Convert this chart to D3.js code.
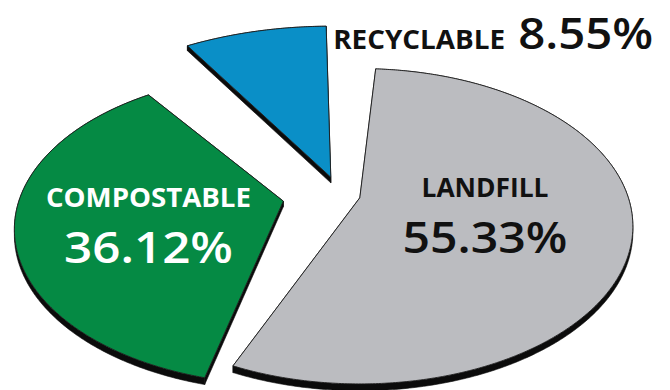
<!DOCTYPE html>
<html>
<head>
<meta charset="utf-8">
<script src="https://cdn.jsdelivr.net/npm/d3@7"></script>
<style>
  html, body { margin: 0; padding: 0; background: #fff; }
  svg { display: block; }
</style>
</head>
<body>
<script>
// Waste stream composition
const categories = ["LANDFILL", "COMPOSTABLE", "RECYCLABLE"];
const shares = [55.33, 36.12, 8.55];
const sliceColors = ["#bbbcc0", "#058a44", "#0a8fc7"];
const labelColors = ["#111111", "#ffffff", "#111111"];

const W = 670, H = 390;
const svg = d3.select("body").append("svg")
  .attr("width", W).attr("height", H)
  .attr("viewBox", `0 0 ${W} ${H}`);

// Perspective camera looking down on the pie plane
const cam = { f: 1221, D: 4.547, tilt: 34.6 * Math.PI / 180 };
const cosT = Math.cos(cam.tilt), sinT = Math.sin(cam.tilt);
function project(a, r) {
  // a: d3 pie angle (0 = far side, clockwise), r: unit radius
  const X = r * Math.sin(a), Z = -r * Math.cos(a);
  const depth = cam.D - cosT * Z;
  return { x: cam.f * X / depth, y: cam.f * sinT * Z / depth, k: cam.D / depth };
}

const center = { x: 340, y: 195 };
const thickness = 5.6;
const deg = Math.PI / 180;

// explode distance, size, slight rotation and label placement per slice
const layout = [
  { explode: 20, scale: 1.0,   twist: 2,  label: { inside: true, r: 0.47, dy: 0,  nameW: 127, valW: 165 } },
  { explode: 57, scale: 0.985, twist: -7, label: { inside: true, r: 0.51, dy: 9,  nameW: 205, valW: 169 } },
  { explode: 20, scale: 1.17,  twist: -3, label: { inside: false, dx: 7, dy: 23, gap: 13, nameW: 172, valW: 135 } }
];

const start = 2 * deg;
const pie = d3.pie().sort(null).startAngle(start).endAngle(start + 2 * Math.PI);
const arcs = pie(shares);

const line = d3.line().x(d => d.x).y(d => d.y);
const fmt = v => v.toFixed(2) + "%";

const slices = arcs.map((arc, i) => {
  const L = layout[i];
  const a0 = arc.startAngle + L.twist * deg;
  const a1 = arc.endAngle + L.twist * deg;
  const mid = (a0 + a1) / 2;
  const m = project(mid, 1);
  const len = Math.hypot(m.x, m.y);
  const apex = { x: center.x + L.explode * m.x / len, y: center.y + L.explode * m.y / len, k: 1 };
  const n = Math.max(8, Math.ceil((a1 - a0) / (0.5 * deg)));
  const rim = d3.range(n + 1).map(j => {
    const p = project(a0 + (a1 - a0) * j / n, 1);
    return { x: apex.x + L.scale * p.x, y: apex.y + L.scale * p.y, k: p.k };
  });
  return { i, arc, L, a0, a1, mid, apex, rim };
});

const drop = p => ({ x: p.x, y: p.y + thickness * p.k });

const g = svg.append("g");

slices.forEach(s => {
  const sg = g.append("g").attr("class", "slice");
  const first = s.rim[0], last = s.rim[s.rim.length - 1];
  // side walls
  const outer = s.rim.concat(s.rim.slice().reverse().map(drop));
  const sides = [
    outer,
    [s.apex, first, drop(first), drop(s.apex)],
    [s.apex, last, drop(last), drop(s.apex)]
  ];
  sides.forEach(poly => {
    sg.append("path")
      .attr("d", line(poly) + "Z")
      .attr("fill", "#0b0b0b")
      .attr("stroke", "#0b0b0b")
      .attr("stroke-width", 0.6)
      .attr("stroke-linejoin", "round");
  });
  // top face
  sg.append("path")
    .attr("d", line([s.apex].concat(s.rim)) + "Z")
    .attr("fill", sliceColors[s.i])
    .attr("stroke", "#1c1c1c")
    .attr("stroke-width", 0.9)
    .attr("stroke-linejoin", "miter");
});

// labels
const nameSize = 26, valueSize = 43;
slices.forEach(s => {
  const L = s.L.label;
  const color = labelColors[s.i];
  const lg = svg.append("g").attr("class", "label")
    .attr("font-family", "'Open Sans', 'Noto Sans', sans-serif")
    .attr("fill", color);
  if (L.inside) {
    const p = project(s.mid, L.r);
    const ax = s.apex.x + s.L.scale * p.x;
    const ay = s.apex.y + s.L.scale * p.y + L.dy;
    lg.append("text")
      .attr("x", ax).attr("y", ay - 18)
      .attr("text-anchor", "middle")
      .attr("font-size", nameSize).attr("font-weight", 700)
      .attr("textLength", L.nameW).attr("lengthAdjust", "spacingAndGlyphs")
      .text(categories[s.i]);
    lg.append("text")
      .attr("x", ax).attr("y", ay + 38)
      .attr("text-anchor", "middle")
      .attr("font-size", valueSize).attr("font-weight", 600)
      .attr("textLength", L.valW).attr("lengthAdjust", "spacingAndGlyphs")
      .text(fmt(shares[s.i]));
  } else {
    const corner = s.rim[s.rim.length - 1];
    const x0 = corner.x + L.dx, y0 = corner.y + L.dy;
    lg.append("text")
      .attr("x", x0).attr("y", y0)
      .attr("font-size", nameSize).attr("font-weight", 700)
      .attr("textLength", L.nameW).attr("lengthAdjust", "spacingAndGlyphs")
      .text(categories[s.i]);
    lg.append("text")
      .attr("x", x0 + L.nameW + L.gap).attr("y", y0)
      .attr("font-size", valueSize).attr("font-weight", 600)
      .attr("textLength", L.valW).attr("lengthAdjust", "spacingAndGlyphs")
      .text(fmt(shares[s.i]));
  }
});
</script>
</body>
</html>
